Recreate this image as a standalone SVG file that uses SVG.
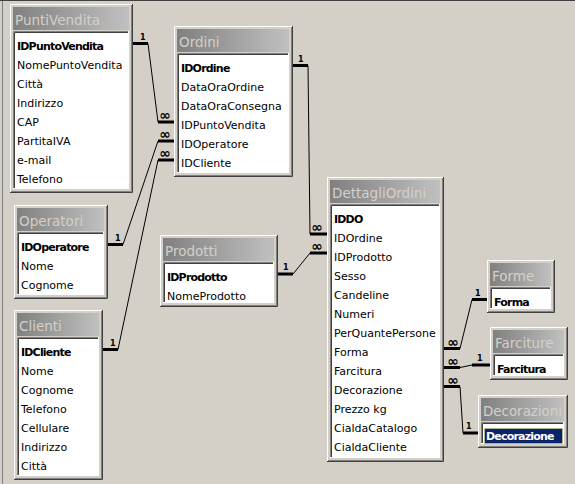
<svg xmlns="http://www.w3.org/2000/svg" width="575" height="484" viewBox="0 0 575 484">
<defs>
<linearGradient id="tbg" x1="0" y1="0" x2="1" y2="0">
<stop offset="0" stop-color="#808080"/>
<stop offset="1" stop-color="#c0c0c0"/>
</linearGradient>
<style>
.bg{fill:#d4d0c8}
.win{fill:#d4d0c8}
.hl{fill:none;stroke:#ffffff;stroke-width:1}
.sh{fill:none;stroke:#404040;stroke-width:1}
.sh2{fill:none;stroke:#808080;stroke-width:1}
.tb{fill:url(#tbg)}
.tt{font-family:"DejaVu Sans",sans-serif;font-size:13.5px;fill:#d4d0c8}
.fb{fill:#ffffff}
.sk1{fill:none;stroke:#808080;stroke-width:1}
.sk2{fill:none;stroke:#404040;stroke-width:1}
.sk3{fill:none;stroke:#ffffff;stroke-width:1}
.f{font-family:"DejaVu Sans",sans-serif;font-size:11px;fill:#000000}
.k{font-family:"DejaVu Sans",sans-serif;font-size:11px;font-weight:bold;letter-spacing:-0.8px;fill:#000000}
.thick{fill:none;stroke:#000000;stroke-width:3}
.thin{fill:none;stroke:#000000;stroke-width:1}
.one{font-family:"DejaVu Sans",sans-serif;font-size:8px;font-weight:bold;fill:#000000}
.many{font-family:"DejaVu Sans",sans-serif;font-size:14px;font-weight:bold;fill:#000000;text-anchor:middle}
</style>
</defs>
<rect class="bg" x="0" y="0" width="575" height="484"/>
<line x1="0" y1="0.5" x2="575" y2="0.5" stroke="#404040" stroke-width="1"/>
<line x1="2.5" y1="1" x2="2.5" y2="484" stroke="#808080" stroke-width="1"/>

<g id="connectors">
<path class="thick" d="M133 43.5 H148"/><path class="thin" d="M148 43.5 L158 122"/><path class="thick" d="M158 122 H174"/>
<text class="one" x="140" y="39.5">1</text><text class="many" x="165" y="120">∞</text>
<path class="thick" d="M108 244.5 H123"/><path class="thin" d="M123 244.5 L158 141"/><path class="thick" d="M158 141 H174"/>
<text class="one" x="115" y="240.5">1</text><text class="many" x="165" y="139">∞</text>
<path class="thick" d="M103 349.5 H118"/><path class="thin" d="M118 349.5 L158 160"/><path class="thick" d="M158 160 H174"/>
<text class="one" x="110" y="345.5">1</text><text class="many" x="165" y="158">∞</text>
<path class="thick" d="M293 65.5 H308"/><path class="thin" d="M308 65.5 L310 234"/><path class="thick" d="M310 234 H327"/>
<text class="one" x="298" y="61.5">1</text><text class="many" x="317" y="232">∞</text>
<path class="thick" d="M278 274 H293"/><path class="thin" d="M293 274 L310 253"/><path class="thick" d="M310 253 H327"/>
<text class="one" x="283" y="270">1</text><text class="many" x="317" y="251">∞</text>
<path class="thick" d="M444 348.5 H460"/><path class="thin" d="M460 348.5 L472 299.5"/><path class="thick" d="M472 299.5 H487"/>
<text class="one" x="475" y="295.5">1</text><text class="many" x="453" y="346.5">∞</text>
<path class="thick" d="M444 367.5 H460"/><path class="thin" d="M460 367.5 L472 365"/><path class="thick" d="M472 365 H490"/>
<text class="one" x="477" y="361">1</text><text class="many" x="453" y="365.5">∞</text>
<path class="thick" d="M444 386.5 H460"/><path class="thin" d="M460 386.5 L463 433"/><path class="thick" d="M463 433 H478"/>
<text class="one" x="466" y="429">1</text><text class="many" x="453" y="384.5">∞</text>
</g>

<g id="PuntiVendita">
<rect class="win" x="10" y="4" width="123" height="189"/>
<path class="hl" d="M10.5 192 V4.5 H132"/><path class="sh" d="M10 192.5 H132.5 V4"/><path class="sh2" d="M11 191.5 H131.5 V5"/>
<rect class="tb" x="13" y="7" width="116" height="23"/>
<text class="tt" x="15" y="25">PuntiVendita</text>
<rect class="fb" x="13" y="31" width="116" height="158"/>
<path class="sk1" d="M13.5 189 V31.5 H129"/><path class="sk2" d="M14.5 188 V32.5 H128"/><path class="sk3" d="M13 188.5 H128.5 V31"/>
<text class="k" x="17" y="49.5">IDPuntoVendita</text>
<text class="f" x="17" y="68.5">NomePuntoVendita</text>
<text class="f" x="17" y="87.5">Città</text>
<text class="f" x="17" y="106.5">Indirizzo</text>
<text class="f" x="17" y="125.5">CAP</text>
<text class="f" x="17" y="144.5">PartitaIVA</text>
<text class="f" x="17" y="163.5">e-mail</text>
<text class="f" x="17" y="182.5">Telefono</text>
</g>

<g id="Ordini">
<rect class="win" x="174" y="26" width="119" height="151"/>
<path class="hl" d="M174.5 176 V26.5 H292"/><path class="sh" d="M174 176.5 H292.5 V26"/><path class="sh2" d="M175 175.5 H291.5 V27"/>
<rect class="tb" x="177" y="29" width="112" height="23"/>
<text class="tt" x="179" y="47">Ordini</text>
<rect class="fb" x="177" y="53" width="112" height="120"/>
<path class="sk1" d="M177.5 173 V53.5 H289"/><path class="sk2" d="M178.5 172 V54.5 H288"/><path class="sk3" d="M177 172.5 H288.5 V53"/>
<text class="k" x="181" y="71.5">IDOrdine</text>
<text class="f" x="181" y="90.5">DataOraOrdine</text>
<text class="f" x="181" y="109.5">DataOraConsegna</text>
<text class="f" x="181" y="128.5">IDPuntoVendita</text>
<text class="f" x="181" y="147.5">IDOperatore</text>
<text class="f" x="181" y="166.5">IDCliente</text>
</g>

<g id="Operatori">
<rect class="win" x="14" y="205" width="94" height="94"/>
<path class="hl" d="M14.5 298 V205.5 H107"/><path class="sh" d="M14 298.5 H107.5 V205"/><path class="sh2" d="M15 297.5 H106.5 V206"/>
<rect class="tb" x="17" y="208" width="87" height="23"/>
<text class="tt" x="19" y="226">Operatori</text>
<rect class="fb" x="17" y="232" width="87" height="63"/>
<path class="sk1" d="M17.5 295 V232.5 H104"/><path class="sk2" d="M18.5 294 V233.5 H103"/><path class="sk3" d="M17 294.5 H103.5 V232"/>
<text class="k" x="21" y="250.5">IDOperatore</text>
<text class="f" x="21" y="269.5">Nome</text>
<text class="f" x="21" y="288.5">Cognome</text>
</g>

<g id="Prodotti">
<rect class="win" x="160" y="235" width="118" height="72"/>
<path class="hl" d="M160.5 306 V235.5 H277"/><path class="sh" d="M160 306.5 H277.5 V235"/><path class="sh2" d="M161 305.5 H276.5 V236"/>
<rect class="tb" x="163" y="238" width="111" height="23"/>
<text class="tt" x="165" y="256">Prodotti</text>
<rect class="fb" x="163" y="262" width="111" height="41"/>
<path class="sk1" d="M163.5 303 V262.5 H274"/><path class="sk2" d="M164.5 302 V263.5 H273"/><path class="sk3" d="M163 302.5 H273.5 V262"/>
<text class="k" x="167" y="280.5">IDProdotto</text>
<text class="f" x="167" y="299.5">NomeProdotto</text>
</g>

<g id="Clienti">
<rect class="win" x="14" y="310" width="89" height="170"/>
<path class="hl" d="M14.5 479 V310.5 H102"/><path class="sh" d="M14 479.5 H102.5 V310"/><path class="sh2" d="M15 478.5 H101.5 V311"/>
<rect class="tb" x="17" y="313" width="82" height="23"/>
<text class="tt" x="19" y="331">Clienti</text>
<rect class="fb" x="17" y="337" width="82" height="139"/>
<path class="sk1" d="M17.5 476 V337.5 H99"/><path class="sk2" d="M18.5 475 V338.5 H98"/><path class="sk3" d="M17 475.5 H98.5 V337"/>
<text class="k" x="21" y="355.5">IDCliente</text>
<text class="f" x="21" y="374.5">Nome</text>
<text class="f" x="21" y="393.5">Cognome</text>
<text class="f" x="21" y="412.5">Telefono</text>
<text class="f" x="21" y="431.5">Cellulare</text>
<text class="f" x="21" y="450.5">Indirizzo</text>
<text class="f" x="21" y="469.5">Città</text>
</g>

<g id="DettagliOrdini">
<rect class="win" x="327" y="177" width="117" height="285"/>
<path class="hl" d="M327.5 461 V177.5 H443"/><path class="sh" d="M327 461.5 H443.5 V177"/><path class="sh2" d="M328 460.5 H442.5 V178"/>
<rect class="tb" x="330" y="180" width="110" height="23"/>
<text class="tt" x="332" y="198">DettagliOrdini</text>
<rect class="fb" x="330" y="204" width="110" height="254"/>
<path class="sk1" d="M330.5 458 V204.5 H440"/><path class="sk2" d="M331.5 457 V205.5 H439"/><path class="sk3" d="M330 457.5 H439.5 V204"/>
<text class="k" x="334" y="222.5">IDDO</text>
<text class="f" x="334" y="241.5">IDOrdine</text>
<text class="f" x="334" y="260.5">IDProdotto</text>
<text class="f" x="334" y="279.5">Sesso</text>
<text class="f" x="334" y="298.5">Candeline</text>
<text class="f" x="334" y="317.5">Numeri</text>
<text class="f" x="334" y="336.5">PerQuantePersone</text>
<text class="f" x="334" y="355.5">Forma</text>
<text class="f" x="334" y="374.5">Farcitura</text>
<text class="f" x="334" y="393.5">Decorazione</text>
<text class="f" x="334" y="412.5">Prezzo kg</text>
<text class="f" x="334" y="431.5">CialdaCatalogo</text>
<text class="f" x="334" y="450.5">CialdaCliente</text>
</g>

<g id="Forme">
<rect class="win" x="487" y="260" width="68" height="53"/>
<path class="hl" d="M487.5 312 V260.5 H554"/><path class="sh" d="M487 312.5 H554.5 V260"/><path class="sh2" d="M488 311.5 H553.5 V261"/>
<rect class="tb" x="490" y="263" width="61" height="23"/>
<text class="tt" x="492" y="281">Forme</text>
<rect class="fb" x="490" y="287" width="61" height="22"/>
<path class="sk1" d="M490.5 309 V287.5 H551"/><path class="sk2" d="M491.5 308 V288.5 H550"/><path class="sk3" d="M490 308.5 H550.5 V287"/>
<text class="k" x="494" y="305.5">Forma</text>
</g>

<g id="Farciture">
<rect class="win" x="490" y="327" width="78" height="53"/>
<path class="hl" d="M490.5 379 V327.5 H567"/><path class="sh" d="M490 379.5 H567.5 V327"/><path class="sh2" d="M491 378.5 H566.5 V328"/>
<rect class="tb" x="493" y="330" width="71" height="23"/>
<text class="tt" x="495" y="348">Farciture</text>
<rect class="fb" x="493" y="354" width="71" height="22"/>
<path class="sk1" d="M493.5 376 V354.5 H564"/><path class="sk2" d="M494.5 375 V355.5 H563"/><path class="sk3" d="M493 375.5 H563.5 V354"/>
<text class="k" x="497" y="372.5">Farcitura</text>
</g>

<g id="Decorazioni">
<rect class="win" x="478" y="395" width="90" height="53"/>
<path class="hl" d="M478.5 447 V395.5 H567"/><path class="sh" d="M478 447.5 H567.5 V395"/><path class="sh2" d="M479 446.5 H566.5 V396"/>
<rect class="tb" x="481" y="398" width="83" height="23"/>
<text class="tt" x="483" y="416" textLength="79" lengthAdjust="spacingAndGlyphs">Decorazioni</text>
<rect class="fb" x="481" y="422" width="83" height="22"/>
<path class="sk1" d="M481.5 444 V422.5 H564"/><path class="sk2" d="M482.5 443 V423.5 H563"/><path class="sk3" d="M481 443.5 H563.5 V422"/>
<rect x="484.5" y="428.5" width="78" height="15" fill="#0a246a" stroke="#d8d070" stroke-width="1" stroke-dasharray="1 1"/>
<text class="k" x="486" y="440" style="fill:#ffffff">Decorazione</text>
</g>
</svg>
